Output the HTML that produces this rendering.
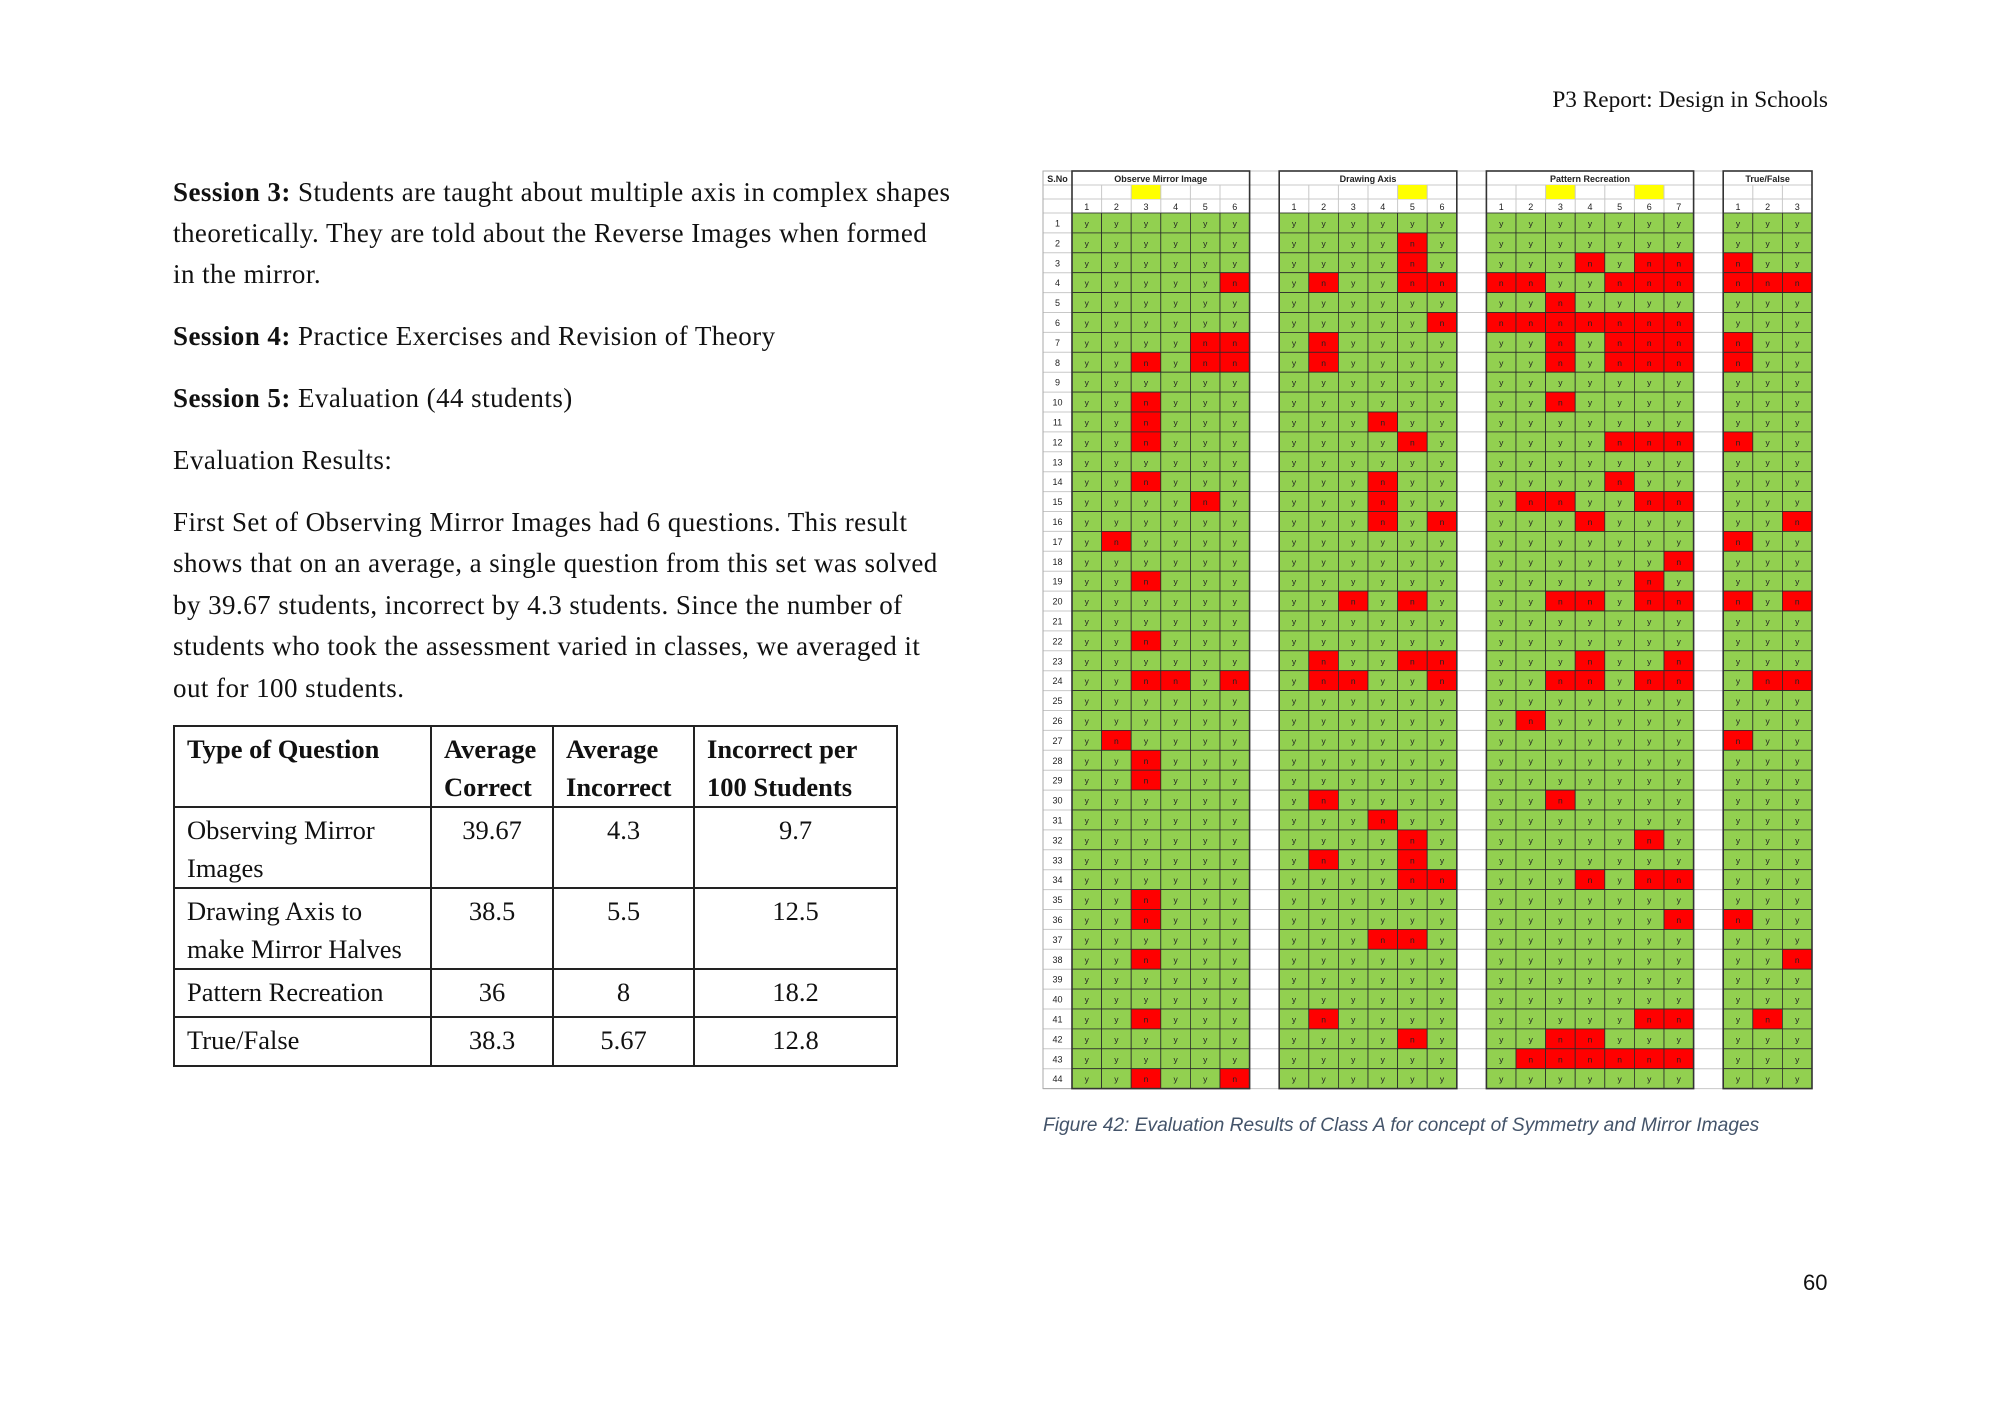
<!DOCTYPE html>
<html><head><meta charset="utf-8">
<style>
html,body{margin:0;padding:0;background:#fff;}
body{width:2000px;height:1414px;position:relative;overflow:hidden;font-family:"Liberation Serif",serif;color:#111;}
.ln{position:absolute;left:173px;font-size:27px;letter-spacing:0.45px;white-space:nowrap;line-height:1;}
.hdr{position:absolute;right:172px;top:87px;font-size:23.3px;white-space:nowrap;}
table.res{position:absolute;left:173px;top:725px;border-collapse:collapse;font-size:26.5px;}
table.res td{border:2px solid #222;vertical-align:top;padding:3px 12px 0 12px;line-height:38px;box-sizing:border-box;}
.c{text-align:center;}
.cap{position:absolute;left:1043px;top:1115px;font-family:"Liberation Sans",sans-serif;font-style:italic;font-size:19.2px;color:#44546a;white-space:nowrap;}
.pg{position:absolute;left:1803px;top:1270px;font-family:"Liberation Sans",sans-serif;font-size:22px;}
</style></head>
<body>
<div class="hdr">P3 Report: Design in Schools</div>

<div class="ln" style="top:179px"><b>Session 3:</b> Students are taught about multiple axis in complex shapes</div>
<div class="ln" style="top:220px">theoretically. They are told about the Reverse Images when formed</div>
<div class="ln" style="top:261px">in the mirror.</div>
<div class="ln" style="top:323px"><b>Session 4:</b> Practice Exercises and Revision of Theory</div>
<div class="ln" style="top:385px"><b>Session 5:</b> Evaluation (44 students)</div>
<div class="ln" style="top:447px">Evaluation Results:</div>
<div class="ln" style="top:509px">First Set of Observing Mirror Images had 6 questions. This result</div>
<div class="ln" style="top:550px">shows that on an average, a single question from this set was solved</div>
<div class="ln" style="top:592px">by 39.67 students, incorrect by 4.3 students. Since the number of</div>
<div class="ln" style="top:633px">students who took the assessment varied in classes, we averaged it</div>
<div class="ln" style="top:675px">out for 100 students.</div>

<table class="res">
<tr style="height:78px">
<td style="width:257px"><b>Type of Question</b></td>
<td style="width:122px"><b>Average Correct</b></td>
<td style="width:141px"><b>Average Incorrect</b></td>
<td style="width:203px"><b>Incorrect per 100 Students</b></td>
</tr>
<tr style="height:77px"><td>Observing Mirror Images</td><td class="c">39.67</td><td class="c">4.3</td><td class="c">9.7</td></tr>
<tr style="height:77px"><td>Drawing Axis to make Mirror Halves</td><td class="c">38.5</td><td class="c">5.5</td><td class="c">12.5</td></tr>
<tr style="height:48px"><td>Pattern Recreation</td><td class="c">36</td><td class="c">8</td><td class="c">18.2</td></tr>
<tr style="height:49px"><td>True/False</td><td class="c">38.3</td><td class="c">5.67</td><td class="c">12.8</td></tr>
</table>

<svg id="grid" width="2000" height="1414" style="position:absolute;left:0;top:0"></svg>

<div class="cap">Figure 42: Evaluation Results of Class A for concept of Symmetry and Mirror Images</div>
<div class="pg">60</div>

<script>
// Incorrect ("n") answers per student row (1..44), listed as question numbers
const observeWrong = [[],[],[],[6],[],[],[5,6],[3,5,6],[],[3],[3],[3],[],[3],[5],[],[2],[],[3],[],[],[3],[],[3,4,6],[],[],[2],[3],[3],[],[],[],[],[],[3],[3],[],[3],[],[],[3],[],[],[3,6]];
const drawingWrong = [[],[5],[5],[2,5,6],[],[6],[2],[2],[],[],[4],[5],[],[4],[4],[4,6],[],[],[],[3,5],[],[],[2,5,6],[2,3,6],[],[],[],[],[],[2],[4],[5],[2,5],[5,6],[],[],[4,5],[],[],[],[2],[5],[],[]];
const patternWrong = [[],[],[4,6,7],[1,2,5,6,7],[3],[1,2,3,4,5,6,7],[3,5,6,7],[3,5,6,7],[],[3],[],[5,6,7],[],[5],[2,3,6,7],[4],[],[7],[6],[3,4,6,7],[],[],[4,7],[3,4,6,7],[],[2],[],[],[],[3],[],[6],[],[4,6,7],[],[7],[],[],[],[],[6,7],[3,4],[2,3,4,5,6,7],[]];
const trueFalseWrong = [[],[],[1],[1,2,3],[],[],[1],[1],[],[],[],[1],[],[],[],[3],[1],[],[],[1,3],[],[],[],[2,3],[],[],[1],[],[],[],[],[],[],[],[],[1],[],[3],[],[],[2],[],[],[]];
const groupTitles = ["Observe Mirror Image","Drawing Axis","Pattern Recreation","True/False"];
const groupSizes = [6,6,7,3];
const highlighted = [[3],[5],[3,6],[]];
const studentCount = 44;

const svg = document.getElementById('grid');
const NS = 'http://www.w3.org/2000/svg';
const X0 = 1072, CW = 29.6, SNX = 1043;
const Y0 = 171, HR = 14, DY = 213, RH = 19.9;
const groupData = [observeWrong, drawingWrong, patternWrong, trueFalseWrong];
const groupStart = [];
let colIdx = 0;
for (let g = 0; g < groupSizes.length; g++) { groupStart.push(colIdx); colIdx += groupSizes[g] + 1; }
const totalCols = colIdx - 1;
const xAt = c => X0 + c * CW;
const yRow = r => DY + r * RH;
const gridRight = xAt(totalCols);
const gridBottom = yRow(studentCount);

function mk(tag, attrs) {
  const e = document.createElementNS(NS, tag);
  for (const k in attrs) e.setAttribute(k, attrs[k]);
  svg.appendChild(e);
  return e;
}
function txt(x, y, s, size, weight) {
  const t = mk('text', {x: x, y: y, 'text-anchor': 'middle', 'font-family': 'Liberation Sans, sans-serif', 'font-size': size, 'font-weight': weight || 'normal', fill: '#222'});
  t.textContent = s;
  return t;
}

for (let r = 0; r <= studentCount; r++) {
  const l = mk('line', {x1: SNX, x2: gridRight, y1: yRow(r), y2: yRow(r), stroke: '#c8c8c8', 'stroke-width': 1});
  
  
}
[Y0, Y0 + HR, Y0 + 2 * HR].forEach(y => {
  const l = mk('line', {x1: SNX, x2: gridRight, y1: y, y2: y, stroke: '#c8c8c8', 'stroke-width': 1});
  
  
});

const snh = txt(SNX + 14.5, Y0 + 11, 'S.No', 9, 'bold');


for (let r = 0; r < studentCount; r++) {
  const t = txt(SNX + 14.5, yRow(r) + 13.5, String(r + 1), 9);
  
  
}
const snBox = mk('rect', {x: SNX, y: Y0, width: X0 - SNX, height: gridBottom - Y0, fill: 'none', stroke: '#aaa', 'stroke-width': 1});



for (let g = 0; g < groupSizes.length; g++) {
  const gx = xAt(groupStart[g]);
  const gw = groupSizes[g] * CW;
  const title = txt(gx + gw / 2, Y0 + 11, groupTitles[g], 9, 'bold');
  
  
  for (let q = 1; q <= groupSizes[g]; q++) {
    const cx = xAt(groupStart[g] + q - 1);
    if (highlighted[g].indexOf(q) >= 0) {
      const h = mk('rect', {x: cx, y: Y0 + HR, width: CW, height: HR, fill: '#ffff00'});
      
      
    }
    const vl = mk('line', {x1: cx, x2: cx, y1: Y0 + HR, y2: Y0 + 3 * HR, stroke: '#c8c8c8', 'stroke-width': 1});
    
    
    const qn = txt(cx + CW / 2, Y0 + 2 * HR + 11, String(q), 9);
    
    
    for (let r = 0; r < studentCount; r++) {
      const wrong = groupData[g][r].indexOf(q) >= 0;
      const cell = mk('rect', {x: cx, y: yRow(r), width: CW, height: RH, fill: wrong ? '#ff0000' : '#92d050', stroke: '#2b2b2b', 'stroke-width': 0.8});
      
      
      const t = txt(cx + CW / 2, yRow(r) + 13.5, wrong ? 'n' : 'y', 8.5);
      
      
    }
  }
  const box = mk('rect', {x: gx, y: Y0, width: gw, height: gridBottom - Y0, fill: 'none', stroke: '#333', 'stroke-width': 1.6});
  
  
}
</script>
</body></html>
